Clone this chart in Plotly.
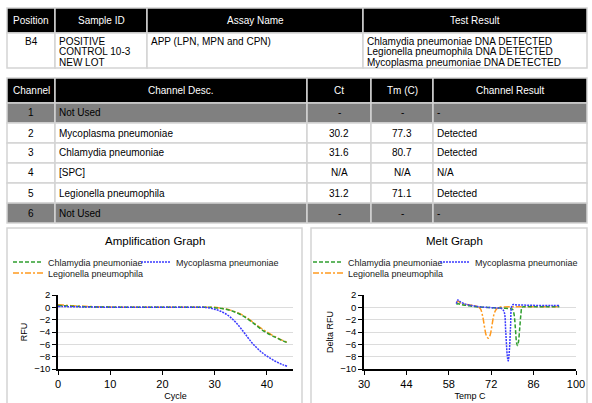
import plotly.graph_objects as go

# ---------------- data ----------------
t1_headers = ["Position", "Sample ID", "Assay Name", "Test Result"]
t1_position = ["B4"]
t1_sample_id = [["POSITIVE", "CONTROL 10-3", "NEW LOT"]]
t1_assay = [["APP (LPN, MPN and CPN)"]]
t1_result = [["Chlamydia pneumoniae DNA DETECTED",
              "Legionella pneumophila DNA DETECTED",
              "Mycoplasma pneumoniae DNA DETECTED"]]

t2_headers = ["Channel", "Channel Desc.", "Ct", "Tm (C)", "Channel Result"]
channels = ["1", "2", "3", "4", "5", "6"]
channel_desc = ["Not Used", "Mycoplasma pneumoniae", "Chlamydia pneumoniae",
                "[SPC]", "Legionella pneumophila", "Not Used"]
ct_values = ["-", "30.2", "31.6", "N/A", "31.2", "-"]
tm_values = ["-", "77.3", "80.7", "N/A", "71.1", "-"]
channel_result = ["-", "Detected", "Detected", "N/A", "Detected", "-"]

cycles = [0, 1, 2, 3, 4, 5, 6, 7, 8, 9, 10, 11, 12, 13, 14, 15, 16, 17, 18, 19,
          20, 21, 22, 23, 24, 25, 26, 27, 28, 29, 30, 31, 32, 33, 34, 35, 36, 37,
          38, 39, 40, 41, 42, 43, 44]
chlamydia_rfu = [0.30, 0.25, 0.21, 0.17, 0.14, 0.11, 0.09, 0.07, 0.05, 0.04,
                 0.03, 0.02, 0.02, 0.01, 0.01, 0.0, 0.0, 0.0, 0.0, 0.0,
                 0.0, 0.0, 0.0, 0.0, 0.0, 0.0, 0.0, 0.0, 0.0, 0.0,
                 -0.05, -0.15, -0.3, -0.5, -0.8, -1.2, -1.7, -2.3, -2.95, -3.6,
                 -4.15, -4.6, -5.0, -5.4, -5.75]
legionella_rfu = [0.42, 0.36, 0.30, 0.25, 0.21, 0.17, 0.14, 0.11, 0.09, 0.07,
                  0.05, 0.04, 0.03, 0.02, 0.02, 0.01, 0.01, 0.0, 0.0, 0.0,
                  0.0, 0.0, 0.0, 0.0, 0.0, 0.0, 0.0, 0.0, 0.0, 0.0,
                  0.0, -0.1, -0.25, -0.45, -0.75, -1.1, -1.6, -2.2, -2.85, -3.45,
                  -4.0, -4.5, -4.95, -5.35, -5.7]
mycoplasma_rfu = [0.15, 0.13, 0.11, 0.09, 0.08, 0.06, 0.05, 0.04, 0.03, 0.02,
                  0.02, 0.01, 0.01, 0.0, 0.0, 0.0, 0.0, 0.0, 0.0, 0.0,
                  0.0, 0.0, 0.0, 0.0, 0.0, 0.0, 0.0, 0.0, 0.0, -0.1,
                  -0.3, -0.6, -1.0, -1.6, -2.4, -3.4, -4.5, -5.6, -6.5, -7.3,
                  -7.9, -8.45, -8.9, -9.3, -9.6]

chlamydia_temp = [60.5, 61, 62, 64, 66, 68, 70, 72, 74, 76, 78, 79, 79.5, 80,
                  80.4, 80.7, 81, 81.4, 81.8, 82.2, 83, 86, 90, 94.5]
chlamydia_melt = [0.5, 0.6, 0.45, 0.3, 0.15, 0.05, 0.0, -0.05, -0.1, -0.15, -0.2,
                  -0.3, -1.0, -3.5, -5.8, -6.2, -5.6, -3.5, -1.2, 0.0, 0.1, 0.1,
                  0.1, 0.1]
legionella_temp = [60.5, 61, 62, 63, 64, 66, 67.5, 68.5, 69.2, 69.8, 70.4, 71.1,
                   71.7, 72.3, 73, 73.7, 74.5, 76, 80, 85, 90, 94.5]
legionella_melt = [0.7, 1.0, 0.7, 0.55, 0.45, 0.3, 0.15, -0.3, -1.5, -3.2, -4.6,
                   -5.0, -4.4, -2.8, -1.0, -0.3, 0.0, 0.05, 0.1, 0.1, 0.1, 0.1]
mycoplasma_temp = [60.5, 61, 61.5, 63, 65, 68, 70, 72, 74, 75.5, 76.3, 76.8, 77.3,
                   77.6, 78, 78.4, 78.8, 79.3, 80, 84, 88, 92, 94.5]
mycoplasma_melt = [0.6, 1.2, 1.0, 0.6, 0.35, 0.1, 0.0, -0.05, -0.1, -0.2, -0.8,
                   -4.0, -7.8, -8.7, -7.0, -3.0, 0.2, 0.45, 0.4, 0.35, 0.3, 0.3, 0.3]

# ---------------- layout constants ----------------
W, H = 592, 403
FONT = "Liberation Sans, Arial, sans-serif"
BORDER = "#d4d4d4"
GREEN, ORANGE, BLUE = "#2f9e2f", "#ff9a1f", "#3a3aff"


def px(x):
    return x / W


def py(y):
    return 1 - y / H


shapes = []
annotations = []


def cell(x0, x1, y0, y1, fill):
    shapes.append(dict(type="rect", xref="paper", yref="paper",
                       x0=px(x0), x1=px(x1), y0=py(y1), y1=py(y0),
                       fillcolor=fill, line=dict(color=BORDER, width=1.5),
                       layer="below"))


def text(x, y, s, anchor, color="#000000", size=10):
    annotations.append(dict(xref="paper", yref="paper", x=px(x), y=py(y), text=s,
                            showarrow=False, xanchor=anchor, yanchor="middle",
                            font=dict(family=FONT, size=size, color=color)))


def cell_text(x0, x1, yc, s, align, color="#000000"):
    if align == "center":
        text((x0 + x1) / 2, yc, s, "center", color)
    else:
        text(x0 + 1.5, yc, s, "left", color)


# ---- table 1 ----
T1_COLS = [7, 55, 147, 363, 587]
T1_ROWS = [8, 33, 68]
t1_align = ["center", "left", "left", "left"]
for i, h in enumerate(t1_headers):
    cell(T1_COLS[i], T1_COLS[i + 1], T1_ROWS[0], T1_ROWS[1], "#000000")
    cell_text(T1_COLS[i], T1_COLS[i + 1], (T1_ROWS[0] + T1_ROWS[1]) / 2, h, "center", "#ffffff")
t1_columns = [[[p] for p in t1_position], t1_sample_id, t1_assay, t1_result]
LINE_H = 10.4
for i, col in enumerate(t1_columns):
    cell(T1_COLS[i], T1_COLS[i + 1], T1_ROWS[1], T1_ROWS[2], "#ffffff")
    for k, line in enumerate(col[0]):
        cell_text(T1_COLS[i], T1_COLS[i + 1], T1_ROWS[1] + 8.5 + k * LINE_H, line, t1_align[i])

# ---- table 2 ----
T2_COLS = [7, 55, 307, 371, 433, 587]
T2_TOP, T2_HEAD, T2_ROW = 78, 25, 20
t2_align = ["center", "left", "center", "center", "left"]
for i, h in enumerate(t2_headers):
    cell(T2_COLS[i], T2_COLS[i + 1], T2_TOP, T2_TOP + T2_HEAD, "#000000")
    cell_text(T2_COLS[i], T2_COLS[i + 1], T2_TOP + T2_HEAD / 2, h, "center", "#ffffff")
t2_columns = [channels, channel_desc, ct_values, tm_values, channel_result]
for r in range(len(channels)):
    y0 = T2_TOP + T2_HEAD + r * T2_ROW
    fill = "#808080" if channel_desc[r] == "Not Used" else "#ffffff"
    for i, col in enumerate(t2_columns):
        cell(T2_COLS[i], T2_COLS[i + 1], y0, y0 + T2_ROW, fill)
        cell_text(T2_COLS[i], T2_COLS[i + 1], y0 + T2_ROW / 2, col[r], t2_align[i])

# ---- chart panels ----
for (x0, x1) in [(7, 302), (311, 587)]:
    shapes.append(dict(type="rect", xref="paper", yref="paper",
                       x0=px(x0), x1=px(x1), y0=py(412), y1=py(228),
                       fillcolor="rgba(0,0,0,0)", line=dict(color=BORDER, width=1.5),
                       layer="below"))
text(155, 241, "Amplification Graph", "center", size=11.5)
text(454, 241, "Melt Graph", "center", size=11.5)

# ---------------- traces ----------------
DASH_G = "4px,2px"
DASH_O = "6px,2px,2px,2px"
DASH_B = "2px,1px"

fig = go.Figure()
fig.add_trace(go.Scatter(x=cycles, y=legionella_rfu, mode="lines", name="Legionella pneumophila",
                         line=dict(color=ORANGE, width=1.5, dash=DASH_O, shape="spline"),
                         xaxis="x", yaxis="y", legend="legend3"))
fig.add_trace(go.Scatter(x=cycles, y=chlamydia_rfu, mode="lines", name="Chlamydia pneumoniae",
                         line=dict(color=GREEN, width=1.5, dash=DASH_G, shape="spline"),
                         xaxis="x", yaxis="y", legend="legend"))
fig.add_trace(go.Scatter(x=cycles, y=mycoplasma_rfu, mode="lines", name="Mycoplasma pneumoniae",
                         line=dict(color=BLUE, width=1.5, dash=DASH_B, shape="spline"),
                         xaxis="x", yaxis="y", legend="legend2"))

fig.add_trace(go.Scatter(x=legionella_temp, y=legionella_melt, mode="lines", name="Legionella pneumophila",
                         line=dict(color=ORANGE, width=1.5, dash=DASH_O, shape="spline"),
                         xaxis="x2", yaxis="y2", legend="legend6"))
fig.add_trace(go.Scatter(x=chlamydia_temp, y=chlamydia_melt, mode="lines", name="Chlamydia pneumoniae",
                         line=dict(color=GREEN, width=1.5, dash=DASH_G, shape="spline"),
                         xaxis="x2", yaxis="y2", legend="legend4"))
fig.add_trace(go.Scatter(x=mycoplasma_temp, y=mycoplasma_melt, mode="lines", name="Mycoplasma pneumoniae",
                         line=dict(color=BLUE, width=1.5, dash=DASH_B, shape="spline"),
                         xaxis="x2", yaxis="y2", legend="legend5"))

ydom = [py(369), py(295)]
xaxis_common = dict(showgrid=False, zeroline=False, showline=True, linecolor="#000000",
                    linewidth=1.5, ticks="outside", ticklen=4, tickcolor="#000000",
                    automargin=False,
                    tickfont=dict(family=FONT, size=11, color="#000000"),
                    title=dict(font=dict(family=FONT, size=9, color="#000000"), standoff=4))
yaxis_common = dict(range=[-10, 2], dtick=2, tick0=0, showgrid=True, gridcolor="#dcdcdc",
                    gridwidth=1, zeroline=False, showline=True, linecolor="#000000",
                    linewidth=1.5, ticks="outside", ticklen=4, tickcolor="#000000",
                    automargin=False,
                    tickfont=dict(family=FONT, size=9.5, color="#000000"),
                    domain=ydom)

legend_common = dict(orientation="h", xanchor="left", yanchor="middle",
                     bgcolor="rgba(0,0,0,0)", borderwidth=0, itemwidth=30,
                     font=dict(family=FONT, size=9, color="#222222"))

fig.update_layout(
    template="none",
    width=W, height=H,
    margin=dict(l=0, r=0, t=0, b=0, pad=0),
    paper_bgcolor="#ffffff", plot_bgcolor="#ffffff",
    font=dict(family=FONT),
    showlegend=True,
    xaxis=dict(xaxis_common, domain=[px(58), px(293)], range=[0, 45], dtick=10, tick0=0,
               anchor="y", title=dict(xaxis_common["title"], text="Cycle")),
    yaxis=dict(yaxis_common, anchor="x",
               title=dict(text="RFU", font=dict(family=FONT, size=9, color="#000000"), standoff=5)),
    xaxis2=dict(xaxis_common, domain=[px(364), px(576)], range=[30, 100], dtick=14, tick0=30,
                anchor="y2", title=dict(xaxis_common["title"], text="Temp C")),
    yaxis2=dict(yaxis_common, anchor="x2",
                title=dict(text="Delta RFU", font=dict(family=FONT, size=9, color="#000000"), standoff=5)),
    legend=dict(legend_common, x=px(8), y=py(262)),
    legend2=dict(legend_common, x=px(136), y=py(262)),
    legend3=dict(legend_common, x=px(8), y=py(273)),
    legend4=dict(legend_common, x=px(308), y=py(262)),
    legend5=dict(legend_common, x=px(435), y=py(262)),
    legend6=dict(legend_common, x=px(308), y=py(273)),
    shapes=shapes,
    annotations=annotations,
)

fig.write_html("out.html",
               config={"displayModeBar": False},
               post_script="document.body.style.margin='0';document.body.style.overflow='hidden';")
